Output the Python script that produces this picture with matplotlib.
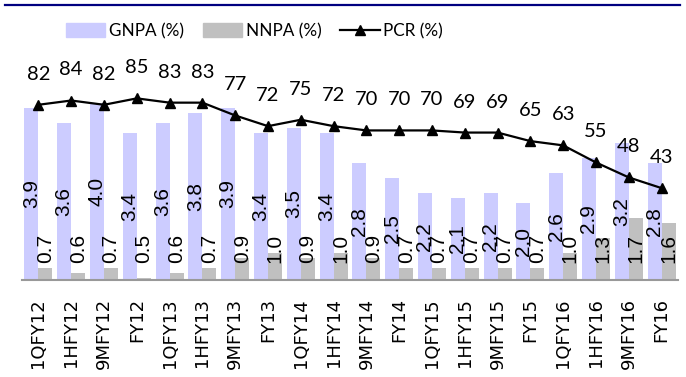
import numpy as np
import matplotlib
matplotlib.use("Agg")
from matplotlib import pyplot as plt
from matplotlib.patches import Patch
from matplotlib.lines import Line2D

# periods on the x axis
periods = ['1QFY12', '1HFY12', '9MFY12', 'FY12', '1QFY13', '1HFY13', '9MFY13', 'FY13',
           '1QFY14', '1HFY14', '9MFY14', 'FY14', '1QFY15', '1HFY15', '9MFY15', 'FY15',
           '1QFY16', '1HFY16', '9MFY16', 'FY16']
# asset quality series
gnpa = [3.9, 3.6, 4.0, 3.4, 3.6, 3.8, 3.9, 3.4, 3.5, 3.4, 2.8, 2.5, 2.2, 2.1, 2.2, 2.0, 2.6, 2.9, 3.2, 2.8]
nnpa = [0.7, 0.6, 0.7, 0.5, 0.6, 0.7, 0.9, 1.0, 0.9, 1.0, 0.9, 0.7, 0.7, 0.7, 0.7, 0.7, 1.0, 1.3, 1.7, 1.6]
pcr = [82, 84, 82, 85, 83, 83, 77, 72, 75, 72, 70, 70, 70, 69, 69, 65, 63, 55, 48, 43]

gnpa_col = '#CCCCFF'
nnpa_col = '#C0C0C0'

fig = plt.figure(figsize=(6.86, 3.77), dpi=100)
ax = fig.add_axes([22 / 686, 97 / 377, 656 / 686, 225 / 377])
ax2 = ax.twinx()

x = np.arange(len(periods))
w = 0.427
ymin = 0.45
ax.bar(x - w / 2, gnpa, w, color=gnpa_col, zorder=2)
ax.bar(x + w / 2, nnpa, w, color=nnpa_col, zorder=2)
ax.set_xlim(-0.5, len(periods) - 0.5)
ax.set_ylim(ymin, 4.95)

# bar value labels
for i in range(len(periods)):
    ax.text(x[i] - w / 2, (gnpa[i] + ymin) / 2, f'{gnpa[i]:.1f}', rotation=90,
            ha='center', va='center', fontsize=15, family='Liberation Sans', zorder=4)
    ax.annotate(f'{nnpa[i]:.1f}', (x[i] + w / 2, ymin), xytext=(0, 12.3),
                textcoords='offset points', rotation=90, ha='center', va='bottom',
                fontsize=15, family='Liberation Sans', zorder=4)

ax2.plot(x, pcr, color='black', lw=1.6, marker='^', ms=7, zorder=3)
ax2.set_ylim(0, 105.3)
for i in range(len(periods)):
    ax2.annotate(str(pcr[i]), (x[i], pcr[i]), xytext=(0, 22), textcoords='offset points',
                 ha='center', va='center', fontsize=14.5, family='Lato')

for a in (ax, ax2):
    for s in ['top', 'left', 'right']:
        a.spines[s].set_visible(False)
    a.set_yticks([])
ax2.spines['bottom'].set_visible(False)
ax.spines['bottom'].set_color('#999999')
ax.spines['bottom'].set_linewidth(1.5)
ax.set_xticks(x)
ax.set_xticklabels(periods, rotation=90, fontsize=13, family='DejaVu Sans')
ax.tick_params(axis='x', length=0, pad=13)

# legend
handles = [Patch(color=gnpa_col), Patch(color=nnpa_col),
           Line2D([], [], color='black', lw=1.6, marker='^', ms=7)]
fig.legend(handles, ['GNPA (%)', 'NNPA (%)', 'PCR (%)'], ncol=3, frameon=False,
           loc='center', bbox_to_anchor=(254.5 / 686, 1 - 31 / 377),
           prop={'family': 'Lato', 'size': 12.3}, handlelength=2.3, handleheight=0.82,
           handletextpad=0.22, columnspacing=1.1)

# navy rule at top
fig.add_artist(Line2D([5 / 686, 680 / 686], [1 - 5 / 377, 1 - 5 / 377], color='#000080', lw=1.6))

fig.savefig('out.png', dpi=100)
